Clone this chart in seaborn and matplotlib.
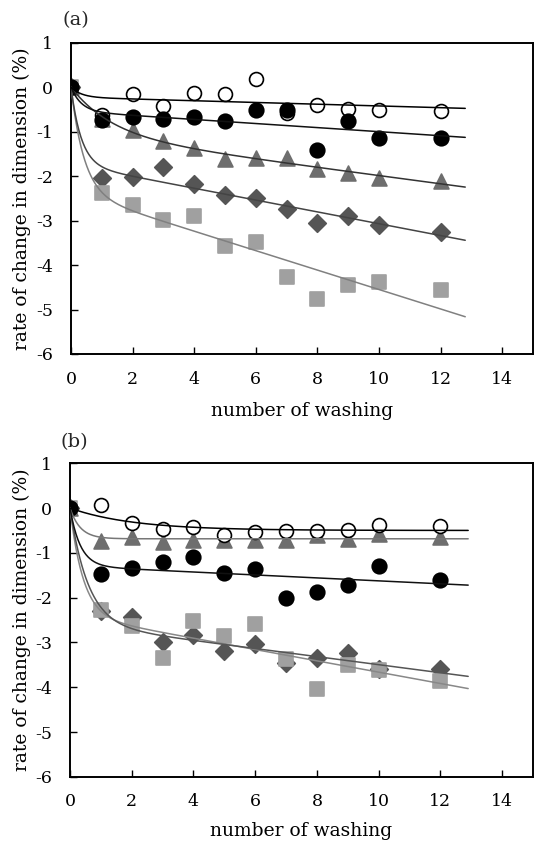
import numpy as np
import pandas as pd
import matplotlib
matplotlib.use("Agg")
import matplotlib.pyplot as plt
import seaborn as sns

# ---------------- data ----------------
washes = [0, 1, 2, 3, 4, 5, 6, 7, 8, 9, 10, 12]

# panel (a)
a_open = [0, -0.62, -0.16, -0.42, -0.14, -0.15, 0.18, -0.58, -0.39, -0.48, -0.51, -0.54]
a_black = [0, -0.73, -0.68, -0.71, -0.66, -0.75, -0.52, -0.52, -1.42, -0.75, -1.14, -1.14]
a_tri = [0, -0.72, -0.96, -1.20, -1.37, -1.61, -1.59, -1.59, -1.85, -1.93, -2.04, -2.12]
a_dia = [0, -2.04, -2.02, -1.80, -2.17, -2.42, -2.49, -2.75, -3.05, -2.89, -3.09, -3.26]
a_sq = [0, -2.39, -2.64, -2.98, -2.89, -3.58, -3.49, -4.27, -4.76, -4.45, -4.39, -4.57]

# panel (b)
b_open = [0, 0.07, -0.34, -0.47, -0.43, -0.60, -0.54, -0.51, -0.51, -0.48, -0.38, -0.40]
b_black = [0, -1.48, -1.33, -1.20, -1.10, -1.44, -1.35, -2.01, -1.87, -1.72, -1.30, -1.60]
b_tri = [0, -0.73, -0.64, -0.75, -0.72, -0.72, -0.72, -0.72, -0.60, -0.70, -0.57, -0.64]
b_dia = [0, -2.30, -2.43, -2.98, -2.84, -3.20, -3.04, -3.47, -3.34, -3.23, -3.60, -3.59]
b_sq = [0, -2.28, -2.64, -3.34, -2.53, -2.85, -2.58, -3.36, -4.05, -3.51, -3.61, -3.86]

xticks = [0, 2, 4, 6, 8, 10, 12, 14]
yticks = [1, 0, -1, -2, -3, -4, -5, -6]

# ---------------- style ----------------
sns.set_theme(style="white")
plt.rcParams["font.family"] = ["DejaVu Serif"]
plt.rcParams["axes.unicode_minus"] = False


def fit_curve(x, y, xmax):
    """least-squares trend y = a(1-exp(-k x)) + c x (c <= 0) through origin"""
    x = np.asarray(x, float)
    y = np.asarray(y, float)
    best = None
    for k in np.geomspace(0.05, 3.0, 400):
        A = np.column_stack([1 - np.exp(-k * x), x])
        coef, *_ = np.linalg.lstsq(A, y, rcond=None)
        if coef[1] > 0:
            a1, *_ = np.linalg.lstsq(A[:, :1], y, rcond=None)
            coef = np.array([a1[0], 0.0])
        sse = np.sum((A @ coef - y) ** 2)
        if best is None or sse < best[0]:
            best = (sse, k, coef)
    _, k, coef = best
    xs = np.linspace(0, xmax, 400)
    return xs, coef[0] * (1 - np.exp(-k * xs)) + coef[1] * xs


fig = plt.figure(figsize=(5.34, 8.41), dpi=100)
ax_a = fig.add_axes([71 / 534, 1 - 354 / 841, 462 / 534, 311.3 / 841])
ax_b = fig.add_axes([70 / 534, 1 - 776.8 / 841, 463 / 534, 313.5 / 841])

# marker spec: (marker, face, edge, size)
spec = {
    "dia": ("D", "#555555", "#555555", 80),
    "sq": ("s", "#a0a0a0", "#a0a0a0", 105),
    "tri": ("^", "#6e6e6e", "#6e6e6e", 115),
    "open": ("o", "white", "black", 100),
    "black": ("o", "black", "black", 110),
}


def draw(ax, series, line_colors, xmax):
    for key in ["dia", "sq", "tri", "open", "black"]:
        vals = series[key]
        m, fc, ec, s = spec[key]
        df = pd.DataFrame({"x": washes, "y": vals})
        sns.scatterplot(data=df, x="x", y="y", ax=ax, marker=m, s=s,
                        color=fc, edgecolor=ec, linewidth=1.2, zorder=2,
                        legend=False)
    for key in ["sq", "dia", "tri", "black", "open"]:
        xs, ys = fit_curve(washes, series[key], xmax)
        sns.lineplot(x=xs, y=ys, ax=ax, color=line_colors[key], lw=1.1,
                     zorder=3, sort=False, estimator=None)
    ax.set_xlim(0, 15)
    ax.set_ylim(-6, 1)
    ax.set_xticks(xticks)
    ax.set_yticks(yticks)
    ax.set_xticklabels([str(t) for t in xticks], fontsize=12.5)
    ax.set_yticklabels([str(t) for t in yticks], fontsize=12.5)
    ax.tick_params(axis="both", direction="in", length=5, width=1,
                   color="black", labelcolor="black")
    ax.tick_params(axis="x", pad=12)
    ax.tick_params(axis="y", pad=13)
    ax.tick_params(top=False, right=False, bottom=True, left=True)
    for sp in ax.spines.values():
        sp.set_visible(True)
        sp.set_color("black")
        sp.set_linewidth(1.4)
    ax.set_xlabel("number of washing", fontsize=13.5, color="black")
    ax.set_ylabel("rate of change in dimension (%)", fontsize=13.5,
                  color="black")
    ax.grid(False)
    ax.set_facecolor("white")


draw(ax_a,
     {"open": a_open, "black": a_black, "tri": a_tri, "dia": a_dia, "sq": a_sq},
     {"open": "black", "black": "#111111", "tri": "#333333",
      "dia": "#444444", "sq": "#808080"},
     12.8)
draw(ax_b,
     {"open": b_open, "black": b_black, "tri": b_tri, "dia": b_dia, "sq": b_sq},
     {"open": "black", "black": "#111111", "tri": "#777777",
      "dia": "#555555", "sq": "#888888"},
     12.9)

# label placement (pixel targets converted to axes fractions)
ax_a.xaxis.set_label_coords(0.5, -(402 - 354) / 311.3)
ax_b.xaxis.set_label_coords(0.5, -(822 - 776.8) / 313.5)
ax_a.yaxis.set_label_coords(-(71 - 31) / 462, 0.5)
ax_b.yaxis.set_label_coords(-(70 - 31) / 463, 0.5)

fig.text(62 / 534, 1 - 20 / 841, "(a)", fontsize=14, ha="left", va="center")
fig.text(60 / 534, 1 - 442 / 841, "(b)", fontsize=14, ha="left", va="center")

fig.savefig("out.png", dpi=100, facecolor="white")
